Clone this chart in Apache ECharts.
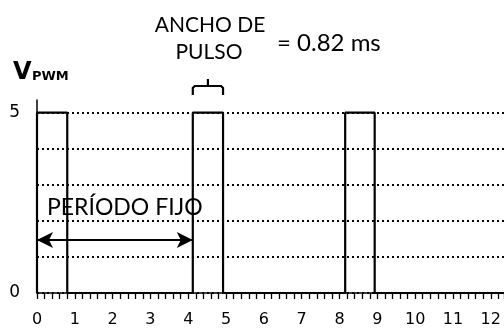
<!DOCTYPE html>
<html>
<head>
<meta charset="utf-8">
<script src="https://cdn.jsdelivr.net/npm/echarts@6/dist/echarts.min.js"></script>
<style>
  html, body { margin: 0; padding: 0; background: #fff; }
  #pwm { width: 504px; height: 330px; }
</style>
</head>
<body>
<div id="pwm"></div>
<script>
  // valores
  var xTickLabels = ['0', '1', '2', '3', '4', '5', '6', '7', '8', '9', '10', '11', '12'];
  var yTickLabels = ['0', '5'];
  var pulseStart = [0, 4.12, 8.15];
  var pulseEnd = [0.8, 4.92, 8.93];
  var levelLow = 0;
  var levelHigh = 5;
  var timeEnd = 12.35;
  var periodLevel = 1.47;

  var chart = echarts.init(document.getElementById('pwm'));

  var wave = [];
  for (var i = 0; i < pulseStart.length; i++) {
    wave.push([pulseStart[i], levelLow]);
    wave.push([pulseStart[i], levelHigh]);
    wave.push([pulseEnd[i], levelHigh]);
    wave.push([pulseEnd[i], levelLow]);
  }
  wave.push([timeEnd, levelLow]);

  var fontTxt = 'Lato';
  var fontNum = 'DejaVu Sans';

  function txt(x, y, s, size, align, weight) {
    return {
      type: 'text', x: x, y: y,
      style: {
        text: s, fontSize: size, fontFamily: fontTxt, fontWeight: weight || 'normal',
        fill: '#000', align: align, verticalAlign: 'middle'
      }
    };
  }

  var option = {
    animation: false,
    backgroundColor: '#fff',
    grid: { left: 37, right: 0, top: 100, bottom: 37 },
    xAxis: {
      type: 'value',
      min: 0,
      max: timeEnd,
      interval: 1,
      axisLine: { onZero: false, lineStyle: { color: '#000', width: 1.5 } },
      axisTick: { show: true, length: 6, lineStyle: { color: '#000', width: 1.3 } },
      minorTick: { show: true, splitNumber: 5, length: 6, lineStyle: { color: '#000', width: 1.3 } },
      axisLabel: {
        margin: 19,
        color: '#000',
        fontSize: 16,
        fontFamily: fontNum,
        showMaxLabel: false,
        formatter: function (v) {
          var s = String(Math.round(v));
          return xTickLabels.indexOf(s) >= 0 && Math.abs(v - Math.round(v)) < 1e-6 ? s : '';
        }
      },
      splitLine: { show: false }
    },
    yAxis: {
      type: 'value',
      min: 0,
      max: 5.35,
      interval: 1,
      axisLine: { show: true, lineStyle: { color: '#000', width: 1.5 } },
      axisTick: { show: false },
      axisLabel: {
        margin: 17,
        color: '#000',
        fontSize: 17,
        fontFamily: fontNum,
        showMaxLabel: false,
        formatter: function (v) {
          var s = String(v);
          return yTickLabels.indexOf(s) >= 0 ? s : '';
        }
      },
      splitLine: {
        show: true,
        lineStyle: {
          color: ['#000', '#000', '#000', '#000', '#000', '#000', 'rgba(0,0,0,0)'],
          type: [2, 3],
          width: 2
        }
      }
    },
    series: [{
      type: 'line',
      data: wave,
      symbol: 'none',
      lineStyle: { color: '#000', width: 2.2 },
      markLine: {
        silent: true,
        symbol: ['arrow', 'arrow'],
        symbolSize: [12, 16],
        label: { show: false },
        lineStyle: { color: '#000', width: 2, type: 'solid' },
        data: [[{ coord: [pulseStart[0], periodLevel] }, { coord: [pulseStart[1], periodLevel] }]]
      }
    }]
  };

  chart.setOption(option);

  // llave sobre el segundo pulso
  var pA = chart.convertToPixel({ gridIndex: 0 }, [pulseStart[1], levelHigh]);
  var pB = chart.convertToPixel({ gridIndex: 0 }, [pulseEnd[1], levelHigh]);
  var xm = (pA[0] + pB[0]) / 2;

  var vLabel = txt(13, 73, 'V', 24, 'left', 'bold');
  vLabel.style.fontFamily = fontNum;
  var pwmLabel = txt(32, 77, 'PWM', 13, 'left', 'bold');
  pwmLabel.style.fontFamily = fontNum;

  chart.setOption({
    graphic: [
      vLabel,
      pwmLabel,
      txt(210, 25, 'ANCHO DE', 21, 'center'),
      txt(209, 52, 'PULSO', 21, 'center'),
      txt(277, 43, '= 0.82 ms', 24, 'left'),
      txt(47, 208, 'PERÍODO FIJO', 23, 'left'),
      {
        type: 'polyline',
        shape: { points: [[pA[0], 95], [pA[0], 88], [pA[0] + 2, 86], [xm, 86], [xm, 79], [xm, 86], [pB[0] - 2, 86], [pB[0], 88], [pB[0], 95]] },
        style: { stroke: '#000', lineWidth: 2.2, fill: null }
      }
    ]
  });
</script>
</body>
</html>
